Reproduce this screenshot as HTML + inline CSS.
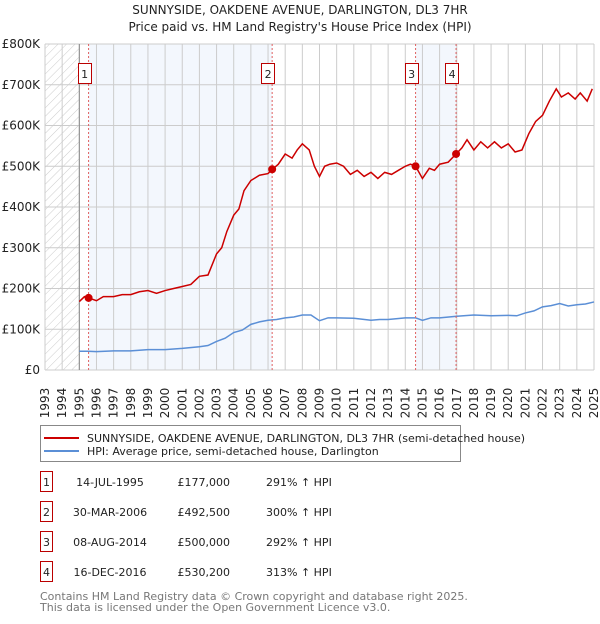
<!DOCTYPE html>
<html><head><meta charset="utf-8"><style>
body{margin:0;background:#fff;font-family:"DejaVu Sans","Liberation Sans",sans-serif;}
svg text{font-family:"DejaVu Sans","Liberation Sans",sans-serif;}
</style></head><body>
<svg id="c" width="600" height="620" xmlns="http://www.w3.org/2000/svg">
<defs><pattern id="hatch" width="6" height="6" patternUnits="userSpaceOnUse" patternTransform="rotate(45)"><line x1="0" y1="0" x2="0" y2="6" stroke="#ccc" stroke-width="1"/></pattern></defs>
<text x="300" y="14" text-anchor="middle" font-size="12" fill="#222">SUNNYSIDE, OAKDENE AVENUE, DARLINGTON, DL3 7HR</text>
<text x="300" y="31" text-anchor="middle" font-size="12" fill="#222">Price paid vs. HM Land Registry's House Price Index (HPI)</text>
<g id="plot"></g>
<g>
<rect x="40.5" y="425.5" width="420" height="36" fill="#fff" stroke="#888"/>
<line x1="44" y1="438" x2="79" y2="438" stroke="#cc0000" stroke-width="2"/>
<text x="87" y="442" font-size="11" fill="#222">SUNNYSIDE, OAKDENE AVENUE, DARLINGTON, DL3 7HR (semi-detached house)</text>
<line x1="44" y1="451" x2="79" y2="451" stroke="#5b8fd6" stroke-width="2"/>
<text x="87" y="455" font-size="11" fill="#222">HPI: Average price, semi-detached house, Darlington</text>
</g>
<g id="table" font-size="11" fill="#222"></g>
<text x="40" y="600" font-size="11" fill="#777">Contains HM Land Registry data © Crown copyright and database right 2025.</text>
<text x="40" y="611" font-size="11" fill="#777">This data is licensed under the Open Government Licence v3.0.</text>
</svg>
<script>
const hpiYears=[1995,1995.5,1996,1997,1998,1999,2000,2001,2002,2002.5,2003,2003.5,2004,2004.5,2005,2005.5,2006,2006.5,2007,2007.5,2008,2008.5,2009,2009.5,2010,2011,2012,2012.5,2013,2014,2014.6,2015,2015.5,2016,2017,2018,2019,2020,2020.5,2021,2021.5,2022,2022.5,2023,2023.5,2024,2024.5,2025];
const hpiValues=[46,46,45,47,47,50,50,53,57,60,70,78,92,98,112,118,122,124,128,130,135,135,121,128,128,127,122,124,124,128,128,122,128,128,132,135,133,134,133,140,145,155,158,163,157,160,162,167];
const ppYears=[1995,1995.3,1995.54,1996,1996.4,1997,1997.5,1998,1998.5,1999,1999.5,2000,2000.5,2001,2001.5,2002,2002.5,2003,2003.3,2003.6,2004,2004.3,2004.6,2005,2005.5,2006,2006.24,2006.6,2007,2007.4,2007.7,2008,2008.4,2008.7,2009,2009.3,2009.6,2010,2010.4,2010.8,2011.2,2011.6,2012,2012.4,2012.8,2013.2,2013.6,2014,2014.3,2014.6,2015,2015.4,2015.7,2016,2016.5,2016.96,2017.3,2017.6,2018,2018.4,2018.8,2019.2,2019.6,2020,2020.4,2020.8,2021.2,2021.6,2022,2022.4,2022.8,2023.1,2023.5,2023.9,2024.2,2024.6,2024.9];
const ppValues=[168,180,177,170,180,180,185,185,192,195,188,195,200,205,210,230,233,285,300,340,380,395,440,465,478,482,492,505,530,520,540,555,540,500,475,500,505,508,500,480,490,475,485,470,485,480,490,500,505,500,470,495,490,505,510,530,545,565,540,560,545,560,545,555,535,540,580,610,625,660,690,670,680,665,680,660,690];
const sales=[{id:"1",t:1995.54,v:177,date:"14-JUL-1995",price:"£177,000",hpi:"291% ↑ HPI"},{id:"2",t:2006.24,v:492.5,date:"30-MAR-2006",price:"£492,500",hpi:"300% ↑ HPI"},{id:"3",t:2014.6,v:500,date:"08-AUG-2014",price:"£500,000",hpi:"292% ↑ HPI"},{id:"4",t:2016.96,v:530.2,date:"16-DEC-2016",price:"£530,200",hpi:"313% ↑ HPI"}];
const yTicks=[0,100,200,300,400,500,600,700,800];
const yTickLabels=["£0","£100K","£200K","£300K","£400K","£500K","£600K","£700K","£800K"];
const X0=45,X1=594,Y0=370,Y1=44;
const xs=t=>X0+(t-1993)/32*(X1-X0);
const ys=v=>Y0-v/800*(Y0-Y1);
const NS="http://www.w3.org/2000/svg";
const g=document.getElementById('plot');
function mk(tag,attrs,parent){const e=document.createElementNS(NS,tag);for(const k in attrs)e.setAttribute(k,attrs[k]);(parent||g).appendChild(e);return e;}
let r=mk('rect',{x:X0,y:Y1,width:xs(1995)-X0,height:Y0-Y1,fill:'url(#hatch)'});


[[0,1],[2,3]].forEach(([a,b],i)=>{const s=mk('rect',{x:xs(sales[a].t),y:Y1,width:xs(sales[b].t)-xs(sales[a].t),height:Y0-Y1,fill:'#eef3fc',opacity:0.7});

});
for(let y=1993;y<=2025;y++){const l=mk('line',{x1:xs(y),x2:xs(y),y1:Y1,y2:Y0,stroke:'#ccc','stroke-width':1});


const t=mk('text',{x:0,y:0,transform:`translate(${xs(y)+4},${403}) rotate(-90)`,'font-size':12,fill:'#222','text-anchor':'middle'});t.textContent=y;

}
yTicks.forEach((v,i)=>{const l=mk('line',{x1:X0,x2:X1,y1:ys(v),y2:ys(v),stroke:'#ccc','stroke-width':1});


const t=mk('text',{x:40,y:ys(v)+4,'font-size':12,fill:'#222','text-anchor':'end'});t.textContent=yTickLabels[i];

});
let ax=mk('line',{x1:xs(1995),x2:xs(1995),y1:Y1,y2:Y0,stroke:'#888','stroke-width':1});


let hp=mk('polyline',{points:hpiYears.map((t,i)=>xs(t)+','+ys(hpiValues[i])).join(' '),fill:'none',stroke:'#5b8fd6','stroke-width':1.5});


let pp=mk('polyline',{points:ppYears.map((t,i)=>xs(t)+','+ys(ppValues[i])).join(' '),fill:'none',stroke:'#cc0000','stroke-width':1.5});


sales.forEach(s=>{const x=xs(s.t);
const d=mk('line',{x1:x,x2:x,y1:Y1,y2:Y0,stroke:'#e06060','stroke-width':1,'stroke-dasharray':'2,2'});


const c=mk('circle',{cx:x,cy:ys(s.v),r:4,fill:'#cc0000'});


const b=mk('rect',{x:Math.round(x-4-7)+0.5,y:63.5,width:13,height:20,fill:'#fff',stroke:'#b00'});


const t=mk('text',{x:x-4,y:78,'font-size':11,fill:'#222','text-anchor':'middle'});t.textContent=s.id;

});
const tb=document.getElementById('table');
sales.forEach((s,i)=>{const y=483+i*30;
const b=mk('rect',{x:40.5,y:y-11.5,width:12,height:20,fill:'#fff',stroke:'#b00'},tb);


[[46.5,s.id,'middle'],[110,s.date,'middle'],[230,s.price,'end'],[266,s.hpi,'start']].forEach(([x,txt,a])=>{const t=mk('text',{x:x,y:y+3,'text-anchor':a},tb);t.textContent=txt;

});});
</script>
</body></html>
